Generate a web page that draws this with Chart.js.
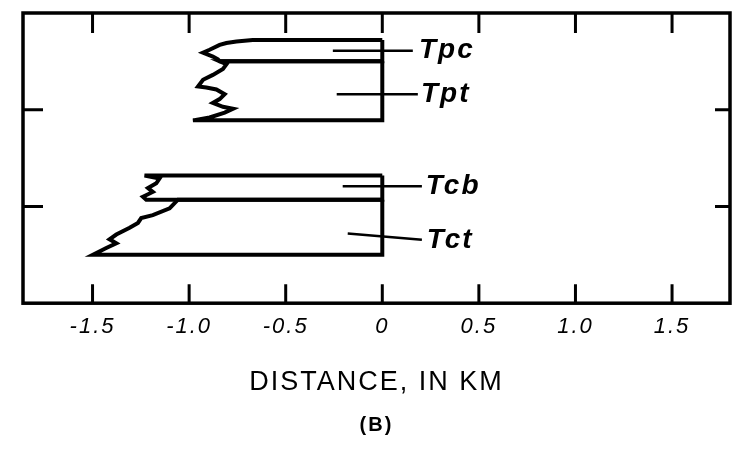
<!DOCTYPE html>
<html>
<head>
<meta charset="utf-8">
<script src="https://cdn.jsdelivr.net/npm/chart.js@4.4.1/dist/chart.umd.min.js"></script>
<style>
  html, body { margin: 0; padding: 0; background: #fff; }
  #wrap { width: 734px; height: 463px; }
</style>
</head>
<body>
<div id="wrap"><canvas id="sectionChart"></canvas></div>
<script>
// axis ticks
const xTicks = [-1.5, -1.0, -0.5, 0, 0.5, 1.0, 1.5];
const xTickLabels = ['-1.5', '-1.0', '-0.5', '0', '0.5', '1.0', '1.5'];
const yTicks = [1, 2];

// unit outlines (distance in km, relative height)
const tpcX = [0, -0.671, -0.755, -0.807, -0.842, -0.894, -0.928, -0.877, -0.851, -0.842, 0, 0];
const tpcY = [2.72, 2.72, 2.705, 2.69, 2.67, 2.62, 2.59, 2.55, 2.52, 2.50, 2.50, 2.72];

const tptX = [0, -0.842, -0.807, -0.825, -0.877, -0.928, -0.954, -0.911, -0.859, -0.816, -0.842, -0.877, -0.825, -0.773, -0.816, -0.894, -0.980, 0, 0];
const tptY = [2.50, 2.50, 2.47, 2.42, 2.36, 2.31, 2.24, 2.23, 2.21, 2.16, 2.11, 2.07, 2.03, 2.01, 1.97, 1.92, 1.89, 1.89, 2.50];

const tcbX = [0, -1.231, -1.153, -1.170, -1.213, -1.188, -1.239, -1.222, 0, 0];
const tcbY = [1.32, 1.32, 1.29, 1.24, 1.19, 1.15, 1.10, 1.07, 1.07, 1.32];

const tctX = [0, -1.058, -1.101, -1.188, -1.248, -1.265, -1.308, -1.377, -1.412, -1.377, -1.429, -1.498, 0, 0];
const tctY = [1.07, 1.07, 0.98, 0.91, 0.88, 0.83, 0.78, 0.71, 0.66, 0.62, 0.57, 0.50, 0.50, 1.07];

// unit labels and their leader lines
const unitNames = ['Tpc', 'Tpt', 'Tcb', 'Tct'];
const leaderX1 = [-0.256, -0.236, -0.205, -0.179];
const leaderY1 = [2.61, 2.16, 1.21, 0.72];
const leaderX2 = [0.158, 0.184, 0.205, 0.205];
const leaderY2 = [2.61, 2.16, 1.21, 0.655];
const labelX = [0.19, 0.20, 0.225, 0.23];

const toPoints = (xs, ys) => xs.map((v, i) => ({ x: v, y: ys[i] }));

const outline = (name, xs, ys) => ({
  label: name,
  data: toPoints(xs, ys),
  showLine: true,
  borderColor: '#000',
  borderWidth: 4,
  pointRadius: 0,
  tension: 0,
  fill: false
});

const leaders = unitNames.map((name, i) => ({
  label: name + ' leader',
  data: [{ x: leaderX1[i], y: leaderY1[i] }, { x: leaderX2[i], y: leaderY2[i] }],
  showLine: true,
  borderColor: '#000',
  borderWidth: 2.5,
  pointRadius: 0
}));

// frame, inward ticks and unit names
const frameTicks = {
  id: 'frameTicks',
  beforeDraw(chart) {
    chart.ctx.letterSpacing = '2px';  // the lettering in the original is spaced out
  },
  afterDatasetsDraw(chart) {
    const { ctx, chartArea: a, scales: { x, y } } = chart;
    ctx.save();
    ctx.strokeStyle = '#000';
    ctx.lineWidth = 3.5;
    ctx.strokeRect(a.left, a.top, a.right - a.left, a.bottom - a.top);
    ctx.lineWidth = 3;
    ctx.beginPath();
    xTicks.forEach(v => {
      const px = x.getPixelForValue(v);
      ctx.moveTo(px, a.bottom);
      ctx.lineTo(px, a.bottom - 19);
      ctx.moveTo(px, a.top);
      ctx.lineTo(px, a.top + 20);
    });
    yTicks.forEach(v => {
      const py = y.getPixelForValue(v);
      ctx.moveTo(a.left, py);
      ctx.lineTo(a.left + 20, py);
      ctx.moveTo(a.right, py);
      ctx.lineTo(a.right - 15, py);
    });
    ctx.stroke();

    ctx.fillStyle = '#000';
    ctx.font = 'italic bold 28px "Liberation Sans"';
    ctx.textBaseline = 'middle';
    ctx.textAlign = 'left';
    unitNames.forEach((t, i) => {
      ctx.fillText(t, x.getPixelForValue(labelX[i]), y.getPixelForValue(leaderY2[i]));
    });
    ctx.restore();
  }
};

const ctx = document.getElementById('sectionChart').getContext('2d');
const sectionChart = new Chart(ctx, {
  type: 'scatter',
  data: {
    datasets: [
      outline('Tpc', tpcX, tpcY),
      outline('Tpt', tptX, tptY),
      outline('Tcb', tcbX, tcbY),
      outline('Tct', tctX, tctY),
      ...leaders
    ]
  },
  options: {
    responsive: true,
    maintainAspectRatio: false,
    animation: false,
    layout: { padding: { left: 23, right: 4, top: 13, bottom: 0 } },
    scales: {
      x: {
        type: 'linear',
        min: -1.86,
        max: 1.8,
        afterBuildTicks: scale => { scale.ticks = xTicks.map(v => ({ value: v })); },
        ticks: {
          color: '#000',
          padding: 10,
          font: { family: '"Liberation Sans"', size: 22, style: 'italic' },
          callback: (value, i) => xTickLabels[i]
        },
        grid: { display: false, drawTicks: false },
        border: { display: false },
        title: {
          display: true,
          text: 'DISTANCE, IN KM',
          color: '#000',
          font: { family: '"Liberation Sans"', size: 27 },
          padding: { top: 17, bottom: 0 }
        }
      },
      y: {
        type: 'linear',
        min: 0,
        max: 3,
        display: false
      }
    },
    plugins: {
      legend: { display: false },
      tooltip: { enabled: false },
      title: {
        display: true,
        position: 'bottom',
        text: '(B)',
        color: '#000',
        font: { family: '"Liberation Sans"', size: 20, weight: 'bold' },
        padding: { top: 14, bottom: 26 }
      }
    }
  },
  plugins: [frameTicks]
});
</script>
</body>
</html>
